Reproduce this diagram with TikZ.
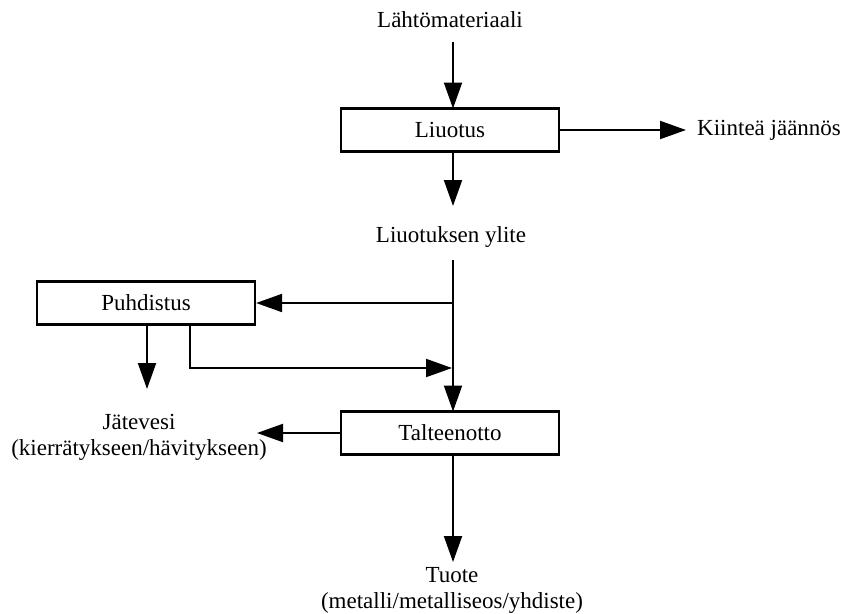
\documentclass[tikz,border=0pt]{standalone}
\usepackage{fontspec}
\setmainfont{Liberation Serif}
\usetikzlibrary{arrows.meta}
\begin{document}
\begin{tikzpicture}[x=1pt,y=-1pt,
  every node/.style={font=\fontsize{23}{26}\selectfont, inner sep=0pt},
  box/.style={draw, line width=2.2pt, minimum width=218pt, minimum height=43pt},
  lbl/.style={align=center},
  arr/.style={line width=2pt, -{Triangle[length=26pt,width=18pt]}},
  ln/.style={line width=2pt}]
\useasboundingbox (0,0) rectangle (842,613);
\node[lbl] (lahto) at (450,20) {Lähtömateriaali};
\node[box] (liuotus) at (450,130) {Liuotus};
\node[anchor=west] (kiintea) at (697,130) {Kiinteä jäännös};
\node[lbl] (ylite) at (451,237) {Liuotuksen ylite};
\node[box] (puhd) at (146,303) {Puhdistus};
\node[box] (talt) at (450,433) {Talteenotto};
\node[lbl] (jate) at (139,437) {Jätevesi\\(kierrätykseen/hävitykseen)};
\node[lbl] (tuote) at (452,590) {Tuote\\(metalli/metalliseos/yhdiste)};
\coordinate (a0) at (453,42);
\coordinate (a1) at (453,108.5);
\coordinate (k0) at (559,130);
\coordinate (k1) at (686,130);
\coordinate (b0) at (453,152);
\coordinate (b1) at (453,206);
\coordinate (t0) at (453,260);
\coordinate (t1) at (453,411.5);
\coordinate (br) at (453,303);
\coordinate (j0) at (147,324);
\coordinate (j1) at (147,389);
\coordinate (r0) at (190,324);
\coordinate (r1) at (190,368);
\coordinate (r2) at (452,368);
\coordinate (w1) at (257,433);
\coordinate (u0) at (453,455);
\coordinate (u1) at (453,562);
\draw[arr] (a0) -- (a1);
\draw[arr] (k0) -- (k1);
\draw[arr] (b0) -- (b1);
\draw[arr] (t0) -- (t1);
\draw[arr] (br) -- (puhd.east);
\draw[arr] (j0) -- (j1);
\draw[arr] (r0) -- (r1) -- (r2);
\draw[arr] (talt.west) -- (w1);
\draw[arr] (u0) -- (u1);
\end{tikzpicture}
\end{document}
